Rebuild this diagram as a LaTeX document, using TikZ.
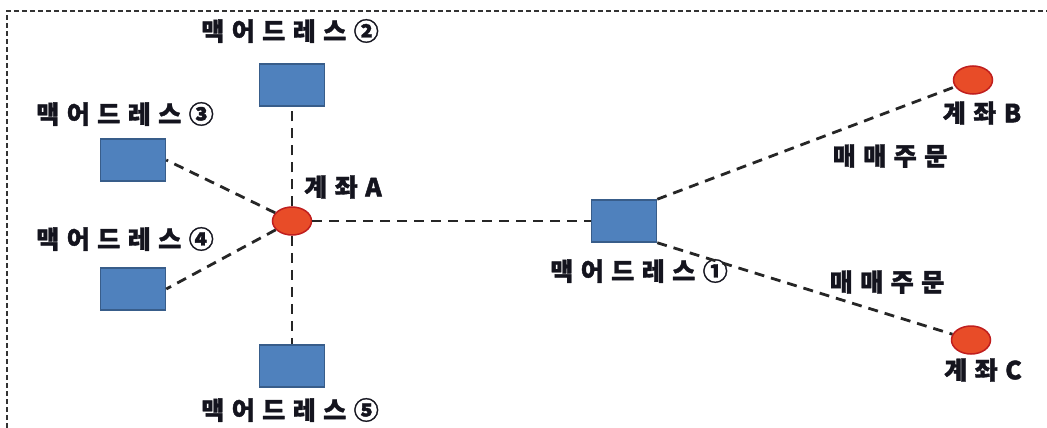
\documentclass[tikz,border=0pt]{standalone}
\usepackage{fontspec}
\setmainfont{Noto Sans CJK KR}[LetterSpace=30,FakeBold=1.5]
\usetikzlibrary{shapes.geometric}
\definecolor{boxfill}{RGB}{79,129,189}
\definecolor{boxdraw}{RGB}{56,93,138}
\definecolor{dotfill}{RGB}{232,76,40}
\definecolor{dotdraw}{RGB}{192,30,30}
\definecolor{txt}{RGB}{20,20,30}
\begin{document}
\begin{tikzpicture}[x=1pt,y=-1pt,
 mac/.style={rectangle, draw=boxdraw, fill=boxfill, line width=1.5pt, minimum width=65pt, minimum height=42pt, inner sep=0pt},
 acct/.style={ellipse, draw=dotdraw, fill=dotfill, line width=1.5pt, minimum width=39pt, minimum height=28pt, inner sep=0pt},
 lbl/.style={font=\fontsize{25}{29}\selectfont\bfseries, text=txt, inner sep=0pt},
 link/.style={line width=2.8pt, dash pattern=on 10pt off 7pt, draw=black!85},
 frameline/.style={line width=1.5pt, dash pattern=on 5pt off 3pt, draw=black!80}]
\useasboundingbox (0,0) rectangle (1047,428);
\draw[frameline] (7,428) -- (7,11) -- (1047,11);

\node[mac] (s1) at (624,221) {};
\node[mac] (s2) at (292,85) {};
\node[mac] (s3) at (133,160) {};
\node[mac] (s4) at (133,289) {};
\node[mac] (s5) at (292,366) {};

\node[acct] (A) at (292,221) {};
\node[acct] (B) at (973,80) {};
\node[acct] (C) at (971,340) {};

\node[lbl] (l1) at (639,271) {맥어드레스①};
\node[lbl] (l2) at (290,31) {맥어드레스②};
\node[lbl] (l3) at (125,114) {맥어드레스③};
\node[lbl] (l4) at (125,239) {맥어드레스④};
\node[lbl] (l5) at (290,410) {맥어드레스⑤};
\node[lbl] (lA) at (343,187) {계좌A};
\node[lbl] (lB) at (982,113) {계좌B};
\node[lbl] (lC) at (983,370) {계좌C};
\node[lbl] (o1) at (890,156) {매매주문};
\node[lbl] (o2) at (887,282) {매매주문};

\draw[link] (A) -- (s2);
\draw[link] (A) -- (s5);
\draw[link] (A) -- (s3.east);
\draw[link] (A) -- (s4.east);
\draw[link] (A) -- (s1);
\draw[link] (s1.north east) -- (B);
\draw[link] (s1.south east) -- (C);
\end{tikzpicture}
\end{document}
